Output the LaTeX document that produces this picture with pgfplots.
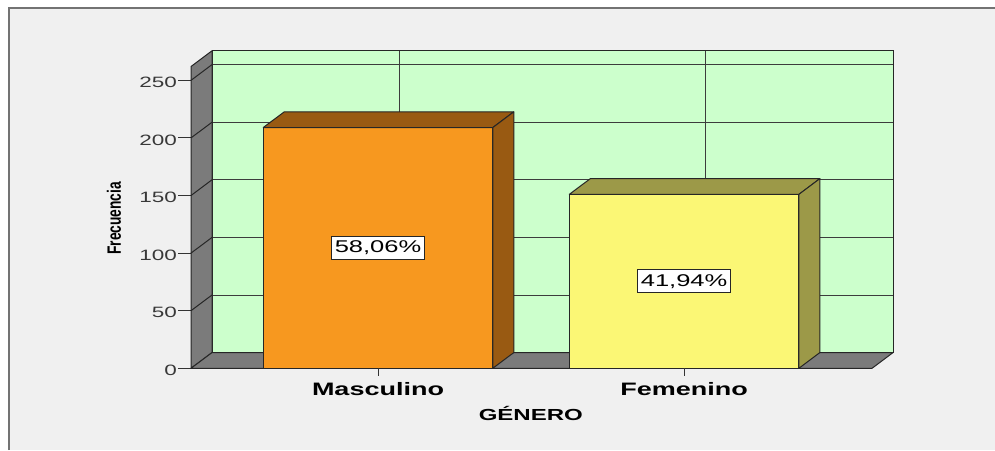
\documentclass[border=0pt]{standalone}
\usepackage{pgfplots}
\pgfplotsset{compat=1.18}
\usepackage{fontspec}
\setmainfont{Liberation Sans}
\definecolor{bgc}{HTML}{F0F0F0}
\definecolor{wallg}{HTML}{CCFFCC}
\definecolor{sidegray}{HTML}{7B7B7B}
\definecolor{mfront}{HTML}{F7981F}
\definecolor{mtop}{HTML}{995A12}
\definecolor{ffront}{HTML}{FBF775}
\definecolor{ftop}{HTML}{9C9948}
\definecolor{edge}{HTML}{262626}
\definecolor{gridc}{HTML}{3C3C3C}
\begin{document}
\begin{tikzpicture}[x=1pt,y=1pt]
\useasboundingbox (0,0) rectangle (995,450);
\fill[white] (0,0) rectangle (995,450);
\fill[bgc] (8.5,0) rectangle (995,441.5);
\draw[black!55, line width=2pt] (8.5,0) -- (8.5,441.5) -- (995,441.5);
\begin{axis}[
  at={(191pt,81.7pt)}, anchor=south west,
  scale only axis, width=681pt, height=301.8pt,
  xmin=-0.611, xmax=1.614, ymin=0, ymax=262,
  clip=false,
  axis line style={draw=none},
  tick pos=left, tick align=outside, major tick length=13pt,
  ytick={0,50,100,150,200,250},
  ytick style={draw=black!80, line width=1pt},
  yticklabel={\scalebox{1.5}[1]{\pgfmathprintnumber[assume math mode=true]{\tick}}},
  yticklabel style={font=\fontsize{15}{18}\selectfont, text=black!78, inner sep=1pt, yshift=-2pt},
  xtick={0,1},
  xtick style={draw=none},
  xticklabels={\scalebox{1.5}[1]{\bfseries Masculino},\scalebox{1.5}[1]{\bfseries Femenino}},
  xticklabel style={font=\fontsize{18}{21}\selectfont, text=black, yshift=2pt},
  xlabel={\scalebox{1.5}[1]{\bfseries GÉNERO}},
  xlabel style={font=\fontsize{16}{19}\selectfont, at={(axis description cs:0.499,-0.1736)}, anchor=base},
  ylabel={\scalebox{1}[1.4]{\bfseries Frecuencia}},
  ylabel style={font=\fontsize{13.8}{16}\selectfont, at={(axis description cs:-0.113,0.497)}, anchor=center},
]
% back wall
\begin{scope}[shift={(21pt,15.7pt)}]
\fill[wallg] (rel axis cs:0,0) rectangle (rel axis cs:1,1);
\draw[gridc, line width=1pt] (axis cs:-0.611,50) -- (axis cs:1.614,50);
\draw[gridc, line width=1pt] (axis cs:-0.611,100) -- (axis cs:1.614,100);
\draw[gridc, line width=1pt] (axis cs:-0.611,150) -- (axis cs:1.614,150);
\draw[gridc, line width=1pt] (axis cs:-0.611,200) -- (axis cs:1.614,200);
\draw[gridc, line width=1pt] (axis cs:-0.611,250) -- (axis cs:1.614,250);
\draw[gridc, line width=1pt] (axis cs:0,0) -- (axis cs:0,262);
\draw[gridc, line width=1pt] (axis cs:1,0) -- (axis cs:1,262);
\draw[edge, line width=1pt] (rel axis cs:0,0) rectangle (rel axis cs:1,1);
\end{scope}
% left wall
\filldraw[fill=sidegray, draw=edge, line width=1pt, line join=round]
  (rel axis cs:0,0) -- (rel axis cs:0,1) -- ([shift={(21pt,15.7pt)}]rel axis cs:0,1) -- ([shift={(21pt,15.7pt)}]rel axis cs:0,0) -- cycle;
\draw[edge, line width=1pt] (axis cs:-0.611,50) -- ([shift={(21pt,15.7pt)}]axis cs:-0.611,50);
\draw[edge, line width=1pt] (axis cs:-0.611,100) -- ([shift={(21pt,15.7pt)}]axis cs:-0.611,100);
\draw[edge, line width=1pt] (axis cs:-0.611,150) -- ([shift={(21pt,15.7pt)}]axis cs:-0.611,150);
\draw[edge, line width=1pt] (axis cs:-0.611,200) -- ([shift={(21pt,15.7pt)}]axis cs:-0.611,200);
\draw[edge, line width=1pt] (axis cs:-0.611,250) -- ([shift={(21pt,15.7pt)}]axis cs:-0.611,250);
% floor
\filldraw[fill=sidegray, draw=edge, line width=1pt, line join=round]
  (rel axis cs:0,0) -- (rel axis cs:1,0) -- ([shift={(21pt,15.7pt)}]rel axis cs:1,0) -- ([shift={(21pt,15.7pt)}]rel axis cs:0,0) -- cycle;
% bars
\addplot[ybar, bar shift=0pt, bar width=0.75, fill=mfront, draw=edge, line width=1pt] coordinates {(0,209)};
\addplot[ybar, bar shift=0pt, bar width=0.75, fill=ffront, draw=edge, line width=1pt] coordinates {(1,151)};
% 3D faces
\filldraw[fill=mtop, draw=edge, line width=1pt, line join=round]
  (axis cs:-0.375,209) -- ([shift={(21pt,15.7pt)}]axis cs:-0.375,209) -- ([shift={(21pt,15.7pt)}]axis cs:0.375,209) -- (axis cs:0.375,209) -- cycle;
\filldraw[fill=mtop, draw=edge, line width=1pt, line join=round]
  (axis cs:0.375,0) -- (axis cs:0.375,209) -- ([shift={(21pt,15.7pt)}]axis cs:0.375,209) -- ([shift={(21pt,15.7pt)}]axis cs:0.375,0) -- cycle;
\filldraw[fill=ftop, draw=edge, line width=1pt, line join=round]
  (axis cs:0.625,151) -- ([shift={(21pt,15.7pt)}]axis cs:0.625,151) -- ([shift={(21pt,15.7pt)}]axis cs:1.375,151) -- (axis cs:1.375,151) -- cycle;
\filldraw[fill=ftop, draw=edge, line width=1pt, line join=round]
  (axis cs:1.375,0) -- (axis cs:1.375,151) -- ([shift={(21pt,15.7pt)}]axis cs:1.375,151) -- ([shift={(21pt,15.7pt)}]axis cs:1.375,0) -- cycle;
% x ticks
\draw[black!80, line width=1pt] (axis cs:0,0) -- ([yshift=-8pt]axis cs:0,0);
\draw[black!80, line width=1pt] (axis cs:1,0) -- ([yshift=-8pt]axis cs:1,0);
% value labels
\node[draw=edge, fill=white, line width=0.8pt, inner xsep=3.5pt, inner ysep=4.5pt, font=\fontsize{17}{20}\selectfont] at (axis cs:0,104.5) {\scalebox{1.5}[1]{58,06\%}};
\node[draw=edge, fill=white, line width=0.8pt, inner xsep=3.5pt, inner ysep=4.5pt, font=\fontsize{17}{20}\selectfont] at (axis cs:1,75.5) {\scalebox{1.5}[1]{41,94\%}};
\end{axis}
\end{tikzpicture}
\end{document}
